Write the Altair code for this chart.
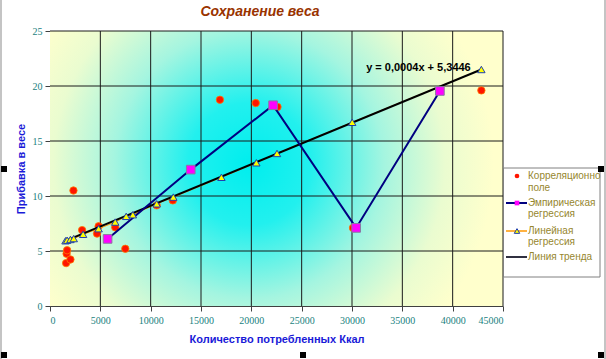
import altair as alt
import pandas as pd

# ---- data ----
corr_x = [1600, 1650, 1700, 2030, 2330, 3190, 4670, 4830, 6480, 7480, 10600, 12200, 16880, 20440, 22600, 30100, 42850]
corr_y = [3.9, 4.75, 5.07, 4.23, 10.5, 6.9, 6.58, 7.25, 7.15, 5.2, 9.15, 9.6, 18.75, 18.45, 18.1, 7.1, 19.6]

emp_x = [5720, 13980, 22160, 30410, 38730]
emp_y = [6.1, 12.4, 18.25, 7.1, 19.55]

lin_x = [1540, 1700, 2030, 2360, 3290, 4830, 6480, 7570, 8230, 10600, 12250, 17030, 20500, 22550, 30020, 42850]
lin_y = [5.93, 5.98, 6.05, 6.13, 6.52, 7.03, 7.63, 8.15, 8.3, 9.29, 9.9, 11.7, 13.02, 13.87, 16.7, 21.5]

trend_x = [1400, 42850]
trend_y = [5.87, 21.5]

x_ticks = [0, 5000, 10000, 15000, 20000, 25000, 30000, 35000, 40000, 45000]
y_ticks = [0, 5, 10, 15, 20, 25]

eq_x = [36600]
eq_y = [21.65]
eq_text = "y = 0,0004x + 5,3446"

title_text = "Сохранение веса"
x_title = "Количество потребленных Ккал"
y_title = "Прибавка в весе"
legend_labels = [["Корреляционно", "поле"], ["Эмпирическая", "регрессия"], ["Линейная", "регрессия"], ["Линия тренда"]]

W, H = 453, 275

corr = pd.DataFrame({"x": corr_x, "y": corr_y})
emp = pd.DataFrame({"x": emp_x, "y": emp_y})
lin = pd.DataFrame({"x": lin_x, "y": lin_y})
trend = pd.DataFrame({"x": trend_x, "y": trend_y})
eq = pd.DataFrame({"x": eq_x, "y": eq_y})
gx = pd.DataFrame({"x": x_ticks[1:]})
gy = pd.DataFrame({"y": y_ticks[1:]})
one = alt.Data(values=[{"a": 1}])

xs = alt.Scale(domain=[0, 45000], nice=False, zero=True)
ys = alt.Scale(domain=[0, 25], nice=False, zero=True)

tick_col = "#1A7F80"
xax = alt.Axis(values=x_ticks, grid=False, format="d", title=x_title,
               titleColor="#1A1AD8", titleFont="Liberation Sans", titleFontSize=11,
               titleFontWeight="bold", titlePadding=8,
               labelFont="Liberation Serif", labelFontSize=10, labelColor=tick_col,
               labelPadding=4, tickSize=5, tickColor="#404040", domainColor="#404040")
yax = alt.Axis(values=y_ticks, grid=False, format="d", title=y_title,
               titleColor="#1A1AD8", titleFont="Liberation Sans", titleFontSize=11,
               titleFontWeight="bold", titlePadding=6,
               labelFont="Liberation Serif", labelFontSize=10, labelColor=tick_col,
               labelPadding=3, tickSize=5, tickColor="#404040", domainColor="#404040")

X = lambda: alt.X("x:Q", scale=xs, axis=xax)
Y = lambda: alt.Y("y:Q", scale=ys, axis=yax)

grad = {
    "gradient": "radial",
    "x1": 0.44, "y1": 0.49, "r1": 0,
    "x2": 0.44, "y2": 0.49, "r2": 0.54,
    "stops": [
        {"offset": 0.0, "color": "#00EEEE"},
        {"offset": 0.25, "color": "#22F0EE"},
        {"offset": 0.55, "color": "#A4F5E0"},
        {"offset": 0.8, "color": "#EAFCD0"},
        {"offset": 1.0, "color": "#FFFFCC"},
    ],
}

bg = alt.Chart(one).mark_rect(fill=grad).encode(
    x=alt.value(0), x2=alt.value(W), y=alt.value(0), y2=alt.value(H))

grid_x = alt.Chart(gx).mark_rule(color="#1A1A1A", strokeWidth=1).encode(x=X())
grid_y = alt.Chart(gy).mark_rule(color="#1A1A1A", strokeWidth=1).encode(y=Y())

dots = alt.Chart(corr).mark_point(shape="circle", filled=True, size=55, color="#FF1500",
                                  stroke="#FF7A00", strokeWidth=0.8, opacity=1).encode(x=X(), y=Y())

lin_line = alt.Chart(lin).mark_line(color="#FF9900", strokeWidth=1).encode(x=X(), y=Y(), order="x:Q")
trend_line = alt.Chart(trend).mark_line(color="#000000", strokeWidth=2).encode(x=X(), y=Y())
emp_line = alt.Chart(emp).mark_line(color="#000080", strokeWidth=2).encode(x=X(), y=Y(), order="x:Q")
emp_pts = alt.Chart(emp).mark_point(shape="square", filled=True, size=75, color="#FF00FF",
                                    stroke="#8A7AA0", strokeWidth=1, opacity=1).encode(x=X(), y=Y())
tri = alt.Chart(lin).mark_point(shape="triangle-up", filled=True, size=55, color="#FFFF00",
                                stroke="#2040B0", strokeWidth=1, opacity=1).encode(x=X(), y=Y())

eq_lbl = alt.Chart(eq).mark_text(text=eq_text, font="Liberation Sans", fontSize=11,
                                 fontWeight="bold", color="#000000").encode(x=X(), y=Y())


def vtext(txt, x, y, **kw):
    return alt.Chart(one).mark_text(text=txt, baseline="middle", **kw).encode(
        x=alt.value(x), y=alt.value(y))


title = vtext(title_text, 210, -19, align="center", font="Liberation Sans", fontSize=14,
              fontWeight="bold", fontStyle="italic", color="#993300")

# legend
leg_col = "#96862E"
lx0 = 453
leg_box = alt.Chart(one).mark_rect(fill="white", stroke="#808080", strokeWidth=1).encode(
    x=alt.value(lx0 + 0.5), x2=alt.value(550), y=alt.value(137), y2=alt.value(246))
leg = [leg_box]
leg.append(alt.Chart(one).mark_point(shape="circle", filled=True, size=22, color="#FF1500", opacity=1).encode(
    x=alt.value(467), y=alt.value(145)))
leg.append(alt.Chart(one).mark_rule(color="#000080", strokeWidth=2).encode(
    x=alt.value(456), x2=alt.value(477), y=alt.value(172)))
leg.append(alt.Chart(one).mark_point(shape="square", filled=True, size=22, color="#FF00FF", opacity=1).encode(
    x=alt.value(467), y=alt.value(172)))
leg.append(alt.Chart(one).mark_rule(color="#FF9900", strokeWidth=1.5).encode(
    x=alt.value(456), x2=alt.value(477), y=alt.value(200)))
leg.append(alt.Chart(one).mark_point(shape="triangle-up", filled=True, size=30, color="#FFFF00",
                                     stroke="#2040B0", strokeWidth=1, opacity=1).encode(
    x=alt.value(467), y=alt.value(200)))
leg.append(alt.Chart(one).mark_rule(color="#303040", strokeWidth=2).encode(
    x=alt.value(456), x2=alt.value(477), y=alt.value(226)))
ly = [[145, 157], [172, 183], [200, 211], [226]]
for labs, yy in zip(legend_labels, ly):
    for t, y in zip(labs, yy):
        leg.append(vtext(t, 478, y, align="left", font="Liberation Sans", fontSize=10, color=leg_col))

# frame and selection handles
frame = [
    alt.Chart(one).mark_rule(color="#C4C4C4", strokeWidth=2).encode(
        x=alt.value(-49), y=alt.value(-31), y2=alt.value(328)),
    alt.Chart(one).mark_rule(color="#C4C4C4", strokeWidth=2).encode(
        x=alt.value(555), y=alt.value(-31), y2=alt.value(328)),
]
for hx, hy in [(-46, 138), (551, 138), (-46, 324), (253, 324), (551, 324)]:
    frame.append(alt.Chart(one).mark_square(size=36, color="#000000", opacity=1).encode(
        x=alt.value(hx), y=alt.value(hy)))

chart = alt.layer(
    bg, grid_x, grid_y, dots, lin_line, trend_line, emp_line, emp_pts, tri, eq_lbl, title,
    *leg, *frame
).properties(
    width=W, height=H,
    autosize=alt.AutoSizeParams(type="none"),
    padding={"left": 50, "top": 31, "right": 103, "bottom": 53},
    background="white",
).configure_view(stroke=None)

chart.save("out.html", embed_options={"renderer": "svg", "actions": False})
